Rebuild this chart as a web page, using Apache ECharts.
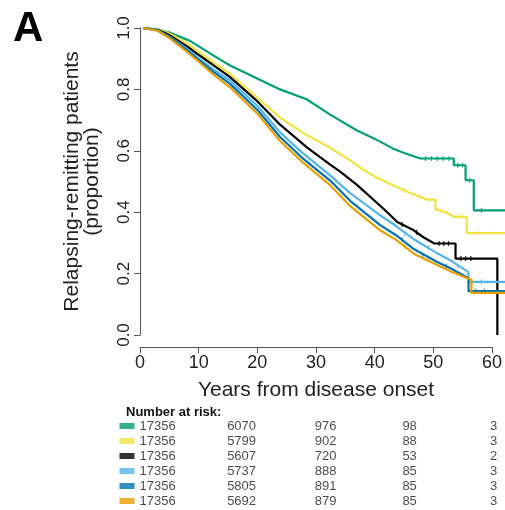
<!DOCTYPE html>
<html><head><meta charset="utf-8">
<script src="https://cdn.jsdelivr.net/npm/echarts@6/dist/echarts.min.js"></script>
<style>html,body{margin:0;padding:0;background:#fff}#c{width:505px;height:510px}</style>
</head><body><div id="c"></div>
<script>
const FONT = "'Liberation Sans', Arial, sans-serif";

const groupColors = ['#009E73', '#F0E442', '#000000', '#56B4E9', '#0072B2', '#E69F00'];

// Kaplan-Meier curves: [years, proportion]
const curveGreen = [[0.5,1],[3,0.995],[5,0.985],[8.5,0.958],[10,0.94],[12.5,0.91],[15.3,0.878],[20,0.835],[23.8,0.8],[28.3,0.768],[32.3,0.718],[36.8,0.667],[40,0.638],[43,0.607],[45,0.592],[47.6,0.575],[53.3,0.575],[53.3,0.553],[55.3,0.553],[55.3,0.504],[56.7,0.504],[56.7,0.406],[62,0.406]];
const curveYellow = [[0.5,1],[3,0.996],[5,0.982],[8,0.95],[10,0.922],[12.5,0.888],[15.3,0.851],[20,0.772],[23.8,0.708],[28,0.655],[32.3,0.61],[35.7,0.569],[37.4,0.545],[40,0.515],[43.1,0.487],[46,0.462],[48.8,0.441],[50.2,0.441],[50.2,0.41],[52,0.4],[53.3,0.385],[55.5,0.385],[55.5,0.332],[62,0.332]];
const curveBlack = [[0.5,1],[3,0.994],[5,0.977],[8,0.94],[10,0.912],[12.5,0.878],[15.3,0.84],[20,0.76],[23.8,0.685],[28.3,0.612],[32.3,0.555],[34,0.532],[36.8,0.49],[40,0.435],[42,0.4],[43.7,0.368],[46.5,0.341],[48,0.32],[50,0.298],[53.6,0.298],[53.6,0.249],[60.7,0.249],[60.7,0]];
const curveSkyBlue = [[0.5,1],[3,0.993],[5,0.972],[8,0.932],[10,0.9],[12.5,0.865],[15.3,0.829],[20,0.745],[23.8,0.66],[27.5,0.595],[32.3,0.52],[35.7,0.462],[40.8,0.39],[43.5,0.355],[46.5,0.312],[50.5,0.266],[53,0.24],[55.8,0.205],[55.8,0.173],[62,0.173]];
const curveBlue = [[0.5,1],[3,0.992],[5,0.97],[8,0.928],[10,0.895],[12.5,0.857],[15.3,0.818],[20,0.732],[23.8,0.645],[27.5,0.578],[32.3,0.503],[35.7,0.437],[40.8,0.358],[43.5,0.325],[46.5,0.28],[50.5,0.238],[53,0.215],[55.8,0.185],[55.8,0.143],[62,0.143]];
const curveOrange = [[0.5,1],[3,0.991],[5,0.967],[8,0.922],[10,0.89],[12.5,0.848],[15.3,0.807],[20,0.72],[23.8,0.632],[27.5,0.565],[32.3,0.488],[35.7,0.42],[40.8,0.341],[43.5,0.31],[46.5,0.265],[50.5,0.228],[53,0.205],[56.3,0.18],[56.3,0.137],[62,0.137]];

// Censoring marks (+) read from the tails: [years, proportion]
const censorGreen = [[48.5,0.575],[49.5,0.575],[50.5,0.575],[51.5,0.575],[52.5,0.575],[54,0.553],[54.8,0.553],[56,0.504],[58,0.406]];
const censorYellow = [[45,0.47],[47.5,0.45],[51,0.405],[54,0.385],[54.8,0.385],[57.5,0.332]];
const censorBlack = [[44.5,0.36],[47,0.335],[50.8,0.298],[51.6,0.298],[52.4,0.298],[54.5,0.249],[55.3,0.249],[56.2,0.249]];
const censorSkyBlue = [[45,0.33],[49,0.285],[54,0.225],[58,0.173]];
const censorBlue = [[44.5,0.31],[48,0.26],[52,0.225],[57,0.143],[58.5,0.143]];
const censorOrange = [[45,0.29],[49,0.245]];

// Number at risk table
const riskTimes = [0, 15, 30, 45, 60];
const riskGreen = [17356, 6070, 976, 98, 3];
const riskYellow = [17356, 5799, 902, 88, 3];
const riskBlack = [17356, 5607, 720, 53, 2];
const riskSkyBlue = [17356, 5737, 888, 85, 3];
const riskBlue = [17356, 5805, 891, 85, 3];
const riskOrange = [17356, 5692, 879, 85, 3];

const xTickMax = 60, xTickStep = 10;
const yTickStep = 0.2;

const curves = [curveGreen, curveYellow, curveBlack, curveSkyBlue, curveBlue, curveOrange];
const censors = [censorGreen, censorYellow, censorBlack, censorSkyBlue, censorBlue, censorOrange];
const risks = [riskGreen, riskYellow, riskBlack, riskSkyBlue, riskBlue, riskOrange];
const rows = risks.map((_, i) => 'row' + i);

const series = [];
curves.forEach((c, i) => {
  series.push({
    type: 'line', xAxisIndex: 0, yAxisIndex: 0, data: c,
    showSymbol: false, symbol: 'none', silent: true,
    lineStyle: { color: groupColors[i], width: 2.2 }, itemStyle: { color: groupColors[i] }
  });
  series.push({
    type: 'scatter', xAxisIndex: 0, yAxisIndex: 0, data: censors[i], silent: true,
    symbol: 'rect', symbolSize: [1.3, 5], itemStyle: { color: groupColors[i] }
  });
});
risks.forEach((r, i) => {
  series.push({
    type: 'scatter', xAxisIndex: 2, yAxisIndex: 2, silent: true,
    data: [[riskTimes[0], rows[i]]],
    symbol: 'rect', symbolSize: [15, 6], symbolOffset: [-12, 0],
    itemStyle: { color: groupColors[i] }
  });
  series.push({
    type: 'scatter', xAxisIndex: 2, yAxisIndex: 2, silent: true,
    data: r.map((v, j) => [riskTimes[j], rows[i], v]),
    symbolSize: 1, itemStyle: { color: 'rgba(0,0,0,0)' },
    label: { show: true, position: 'right', distance: 0, formatter: p => String(p.value[2]),
      fontSize: 13, fontFamily: FONT, color: '#1a1a1a' }
  });
});

const chart = echarts.init(document.getElementById('c'), null, { renderer: 'canvas' });
chart.setOption({
  animation: false,
  backgroundColor: '#ffffff',
  title: [
    { text: 'A', left: 8, top: 3, textStyle: { fontSize: 42, fontWeight: 'bold', fontFamily: FONT, color: '#000' } },
    { text: 'Number at risk:', left: 121, top: 401, textStyle: { fontSize: 13, fontWeight: 'bold', fontFamily: FONT, color: '#111' } }
  ],
  grid: [
    { left: 140, top: 28, width: 365, height: 307 },
    { left: 140, top: 300, width: 353, height: 47 },
    { left: 139, top: 418.5, width: 350.5, height: 90 }
  ],
  xAxis: [
    { gridIndex: 0, type: 'value', min: 0, max: 62, show: false },
    { gridIndex: 1, type: 'value', min: 0, max: xTickMax, interval: xTickStep,
      axisLine: { show: true, lineStyle: { color: '#555', width: 1 } },
      axisTick: { show: true, length: 6, lineStyle: { color: '#555' } },
      axisLabel: { fontSize: 18, fontFamily: FONT, color: '#222', margin: 7 },
      splitLine: { show: false },
      name: 'Years from disease onset', nameLocation: 'middle', nameGap: 33,
      nameTextStyle: { fontSize: 21, fontFamily: FONT, color: '#222' } },
    { gridIndex: 2, type: 'value', min: 0, max: 60, show: false }
  ],
  yAxis: [
    { gridIndex: 0, type: 'value', min: 0, max: 1, interval: yTickStep,
      axisLine: { show: true, lineStyle: { color: '#555', width: 1 } },
      axisTick: { show: true, length: 6, lineStyle: { color: '#555' } },
      axisLabel: { rotate: 90, fontSize: 17, fontFamily: FONT, color: '#222', margin: 7,
        formatter: v => v.toFixed(1) },
      splitLine: { show: false },
      name: 'Relapsing-remitting patients\n(proportion)', nameLocation: 'middle', nameRotate: 90, nameGap: 38,
      nameTextStyle: { fontSize: 21, lineHeight: 20, fontFamily: FONT, color: '#222' } },
    { gridIndex: 1, type: 'value', min: 0, max: 1, show: false },
    { gridIndex: 2, type: 'category', data: rows, inverse: true, show: false }
  ],
  series: series
});
</script>
</body></html>
